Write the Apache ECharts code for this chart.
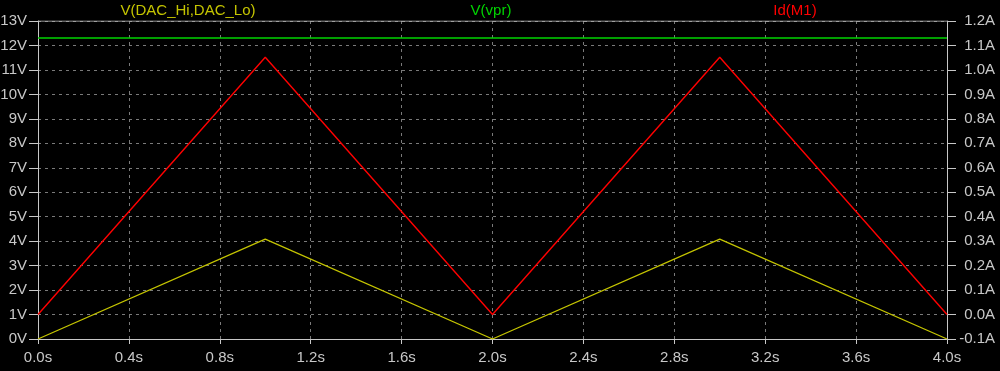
<!DOCTYPE html>
<html>
<head>
<meta charset="utf-8">
<script src="https://cdn.jsdelivr.net/npm/echarts@6/dist/echarts.min.js"></script>
<style>
html,body{margin:0;padding:0;background:#000;}
#c{width:1000px;height:371px;}
</style>
</head>
<body>
<div id="c"></div>
<script>
var timeS = [0, 1, 2, 3, 4];
var vDac = [0, 4.08, 0, 4.08, 0];
var vPr = [12.3, 12.3, 12.3, 12.3, 12.3];
var idM1 = [0, 1.052, 0, 1.052, 0];
var seriesNames = ['V(DAC_Hi,DAC_Lo)', 'V(vpr)', 'Id(M1)'];
var seriesColors = ['#c4c400', '#00d400', '#ff0000'];

function pairs(xs, ys){ return xs.map(function(x,i){ return [x, ys[i]]; }); }

var chart = echarts.init(document.getElementById('c'), null, {renderer:'canvas'});
var axisGrey = '#c8c8c8';
var font = 'Liberation Sans';
var fstr = '15px "Liberation Sans"';
chart.setOption({
  backgroundColor: '#000',
  animation: false,
  grid: {left: 38, right: 53, top: 21, bottom: 32, show: false, containLabel: false, outerBoundsMode: 'none'},
  graphic: [
    {type:'text', x: 188, y: 3, style:{text: seriesNames[0], fill: seriesColors[0], font: fstr, align: 'center'}},
    {type:'text', x: 491, y: 3, style:{text: seriesNames[1], fill: seriesColors[1], font: fstr, align: 'center'}},
    {type:'text', x: 795, y: 3, style:{text: seriesNames[2], fill: seriesColors[2], font: fstr, align: 'center'}}
  ],
  xAxis: {
    type: 'value', min: 0, max: 4, interval: 0.4,
    axisLine: {show: true, onZero: false, lineStyle: {color: axisGrey, width: 1}},
    axisTick: {show: true, length: 5, lineStyle: {color: axisGrey}},
    axisLabel: {color: axisGrey, fontFamily: font, fontSize: 15, margin: 11,
      formatter: function(v){ return (Math.round(v*10)/10).toFixed(1) + 's'; }},
    splitLine: {show: true, lineStyle: {color: '#7a7a7a', type: [3,4], width: 1}}
  },
  yAxis: [
    {
      type: 'value', min: 0, max: 13, interval: 1, position: 'left',
      axisLine: {show: true, lineStyle: {color: axisGrey, width: 1}},
      axisTick: {show: true, length: 9, lineStyle: {color: axisGrey}},
      axisLabel: {color: axisGrey, fontFamily: font, fontSize: 15, margin: 11,
        formatter: function(v){ return Math.round(v) + 'V'; }},
      splitLine: {show: true, lineStyle: {color: '#7a7a7a', type: [3,4], width: 1}}
    },
    {
      type: 'value', min: -0.1, max: 1.2, interval: 0.1, position: 'right',
      axisLine: {show: true, lineStyle: {color: axisGrey, width: 1}},
      axisTick: {show: true, length: 9, lineStyle: {color: axisGrey}},
      axisLabel: {color: axisGrey, fontFamily: font, fontSize: 15, margin: 48, align: 'right',
        formatter: function(v){ return (Math.round(v*10)/10).toFixed(1) + 'A'; }},
      splitLine: {show: false}
    }
  ],
  series: [
    {name: seriesNames[0], type: 'line', yAxisIndex: 0, data: pairs(timeS, vDac), showSymbol: false,
      lineStyle: {color: seriesColors[0], width: 1.3}, itemStyle:{color: seriesColors[0]}},
    {name: seriesNames[1], type: 'line', yAxisIndex: 0, data: pairs(timeS, vPr), showSymbol: false,
      lineStyle: {color: seriesColors[1], width: 1.5}, itemStyle:{color: seriesColors[1]}},
    {name: seriesNames[2], type: 'line', yAxisIndex: 1, data: pairs(timeS, idM1), showSymbol: false,
      lineStyle: {color: seriesColors[2], width: 1.4}, itemStyle:{color: seriesColors[2]}},
    {type: 'line', yAxisIndex: 0, data: [[0,13],[4,13]], showSymbol: false, silent: true,
      lineStyle: {color: axisGrey, width: 1}, tooltip:{show:false}}
  ]
});
</script>
</body>
</html>
